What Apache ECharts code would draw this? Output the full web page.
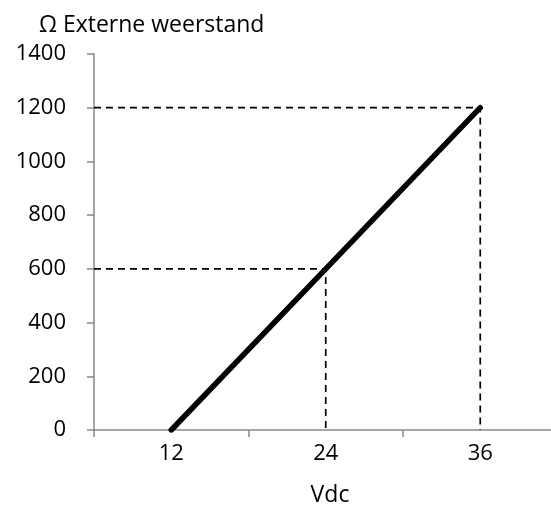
<!DOCTYPE html>
<html>
<head>
<meta charset="utf-8">
<script src="https://cdn.jsdelivr.net/npm/echarts@6/dist/echarts.min.js"></script>
<style>
  html, body { margin: 0; padding: 0; background: #fff; }
  #chart { width: 551px; height: 512px; }
</style>
</head>
<body>
<div id="chart"></div>
<script>
// x categories (Vdc) and y (Ohm)
const voltages = ['12', '24', '36', '48']
const lineData = [[12, 0], [24, 600], [36, 1200]]
const guide600 = [[6, 600], [24, 600], [24, 0]]
const guide1200 = [[6, 1200], [36, 1200], [36, 0]]

const axisGray = '#898989'
const font = 'Open Sans'

const chart = echarts.init(document.getElementById('chart'))
chart.setOption({
  animation: false,
  title: [
    {
      text: 'Ω Externe weerstand',
      left: 34,
      top: 9,
      textStyle: { fontFamily: font, fontSize: 23, fontWeight: 'normal', color: '#000' }
    },
    {
      text: 'Vdc',
      left: 325,
      textAlign: 'center',
      top: 479,
      textStyle: { fontFamily: font, fontSize: 23, fontWeight: 'normal', color: '#000' }
    }
  ],
  grid: {
    left: 94,
    top: 54,
    width: 618,
    height: 376,
    outerBoundsMode: 'none'
  },
  xAxis: [
    {
      type: 'category',
      data: voltages,
      boundaryGap: true,
      axisLine: { lineStyle: { color: axisGray, width: 1.5 } },
      axisTick: { show: true, interval: 0, length: 7, lineStyle: { color: axisGray, width: 1.5 } },
      axisLabel: { color: '#000', fontFamily: font, fontSize: 22, margin: 13 }
    },
    {
      type: 'value',
      min: 6,
      max: 54,
      show: false
    }
  ],
  yAxis: {
    type: 'value',
    min: 0,
    max: 1400,
    interval: 200,
    splitLine: { show: false },
    axisLine: { show: true, lineStyle: { color: axisGray, width: 1.5 } },
    axisTick: { show: true, length: 7, lineStyle: { color: axisGray, width: 1.5 } },
    axisLabel: {
      color: '#000',
      fontFamily: font,
      fontSize: 22,
      margin: 28,
      formatter: v => String(v)
    }
  },
  series: [
    {
      type: 'line',
      xAxisIndex: 1,
      data: guide600,
      symbol: 'none',
      lineStyle: { color: '#000', width: 1.7, type: [7, 5] },
      z: 2
    },
    {
      type: 'line',
      xAxisIndex: 1,
      data: guide1200,
      symbol: 'none',
      lineStyle: { color: '#000', width: 1.7, type: [7, 5] },
      z: 2
    },
    {
      type: 'line',
      xAxisIndex: 1,
      data: lineData,
      symbol: 'none',
      lineStyle: { color: '#000', width: 5.5, cap: 'round' },
      z: 3
    }
  ]
})
</script>
</body>
</html>
